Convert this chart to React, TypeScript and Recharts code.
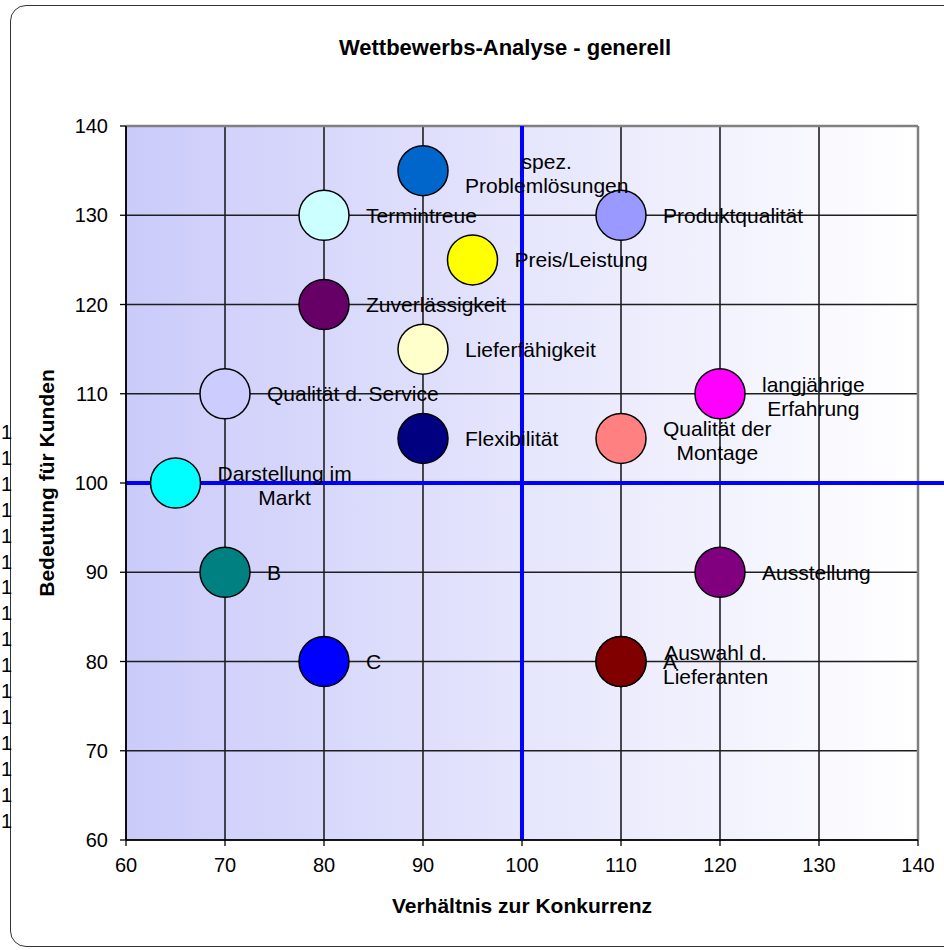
import { ScatterChart, Scatter, XAxis, YAxis, CartesianGrid, ReferenceLine } from 'recharts';

const title = 'Wettbewerbs-Analyse - generell';
const xTitle = 'Verhältnis zur Konkurrenz';
const yTitle = 'Bedeutung für Kunden';

const labels = [
  'spez.\nProblemlösungen',
  'Termintreue',
  'Produktqualität',
  'Preis/Leistung',
  'Zuverlässigkeit',
  'Lieferfähigkeit',
  'Qualität d. Service',
  'langjährige\nErfahrung',
  'Flexibilität',
  'Qualität der\nMontage',
  'Darstellung im\nMarkt',
  'B',
  'Ausstellung',
  'C',
  'A',
  'Auswahl d.\nLieferanten',
];
const xValues = [90, 80, 110, 95, 80, 90, 70, 120, 90, 110, 65, 70, 120, 80, 110, 110];
const yValues = [135, 130, 130, 125, 120, 115, 110, 110, 105, 105, 100, 90, 90, 80, 80, 80];
const bubbleColors = [
  '#0066CC', '#CCFFFF', '#9999FF', '#FFFF00', '#660066', '#FFFFCC', '#CCCCFF', '#FF00FF',
  '#000080', '#FF8080', '#00FFFF', '#008080', '#800080', '#0000FF', '#800000', '#800000',
];
const xTicks = [60, 70, 80, 90, 100, 110, 120, 130, 140];
const yTicks = [60, 70, 80, 90, 100, 110, 120, 130, 140];
// clipped text stubs at the left edge of the frame
const strayMarks = ['1', '1', '1', '1', '1', '1', '1', '1', '1', '1', '1', '1', '1', '1', '1', '1'];

const points = labels.map((label, i) => ({ label, x: xValues[i], y: yValues[i], color: bubbleColors[i] }));

const FONT = '"Liberation Sans", Arial, sans-serif';

let ctx: CanvasRenderingContext2D | null = null;
function textWidth(s: string) {
  if (!ctx) ctx = document.createElement('canvas').getContext('2d');
  if (!ctx) return s.length * 10;
  ctx.font = '21px "Liberation Sans"';
  return ctx.measureText(s).width;
}

function Bubble(props: any) {
  const { cx, cy, payload } = props;
  return <circle cx={cx} cy={cy} r={25} fill={payload.color} stroke="#000" strokeWidth={1.5} />;
}

function BubbleLabel(props: any) {
  const { cx, cy, payload } = props;
  const lines: string[] = payload.label.split('\n');
  const left = cx + 42;
  if (lines.length === 1) {
    return (
      <text x={left} y={cy + 7.5} fontSize={21} fontFamily={FONT} fill="#000">
        {lines[0]}
      </text>
    );
  }
  const mid = left + Math.max(...lines.map(textWidth)) / 2;
  return (
    <text textAnchor="middle" fontSize={21} fontFamily={FONT} fill="#000">
      {lines.map((l, i) => (
        <tspan key={i} x={mid} y={cy - 2 + i * 24}>
          {l}
        </tspan>
      ))}
    </text>
  );
}

export default function App() {
  const tick = { fill: '#000', fontSize: 20, fontFamily: FONT };
  return (
    <div style={{ position: 'absolute', left: 0, top: 0, width: 944, height: 950, overflow: 'hidden', background: '#fff' }}>
      <div
        style={{
          position: 'absolute', left: 10, top: 5, width: 960, height: 942,
          border: '1.5px solid #333', borderRadius: 16, boxSizing: 'border-box',
        }}
      />
      <div
        style={{
          position: 'absolute', left: 0, top: 420, width: 12, overflow: 'hidden', textAlign: 'right',
          fontFamily: FONT, fontSize: 20, lineHeight: '25.9px', color: '#000',
        }}
      >
        {strayMarks.map((m, i) => (
          <div key={i}>{m}</div>
        ))}
      </div>
      <ScatterChart width={944} height={950} margin={{ top: 126, right: 26, bottom: 0, left: 0 }}>
        <defs>
          <linearGradient id="plotBg" x1="0" y1="0" x2="1" y2="0">
            <stop offset="0%" stopColor="#CBCBFA" />
            <stop offset="100%" stopColor="#FFFFFF" />
          </linearGradient>
        </defs>
        <CartesianGrid fill="url(#plotBg)" fillOpacity={1} stroke="#1f1f1f" strokeWidth={1.6} />
        <XAxis
          type="number" dataKey="x" domain={[60, 140]} ticks={xTicks} height={110}
          tick={tick} tickSize={6} tickMargin={12}
          axisLine={{ stroke: '#000', strokeWidth: 1.6 }} tickLine={{ stroke: '#000', strokeWidth: 1.3 }}
        />
        <YAxis
          type="number" dataKey="y" domain={[60, 140]} ticks={yTicks} width={126}
          tick={tick} tickSize={6} tickMargin={12}
          axisLine={{ stroke: '#000', strokeWidth: 1.6 }} tickLine={{ stroke: '#000', strokeWidth: 1.3 }}
        />
        <ReferenceLine y={140} stroke="#808080" strokeWidth={2.5} />
        <ReferenceLine x={140} stroke="#808080" strokeWidth={2.5} />
        <ReferenceLine x={100} stroke="#0000FF" strokeWidth={4} />
        <ReferenceLine
          segment={[{ x: 60, y: 100 }, { x: 145, y: 100 }]}
          ifOverflow="visible" stroke="#0000FF" strokeWidth={4}
        />
        <Scatter data={points} shape={Bubble} isAnimationActive={false} />
        <Scatter data={points} shape={BubbleLabel} isAnimationActive={false} />
      </ScatterChart>
      <div
        style={{
          position: 'absolute', left: 0, top: 37, width: 1010, textAlign: 'center',
          fontFamily: FONT, fontWeight: 'bold', fontSize: 22, lineHeight: '22px', color: '#000',
        }}
      >
        {title}
      </div>
      <div
        style={{
          position: 'absolute', left: 0, top: 895, width: 1044, textAlign: 'center',
          fontFamily: FONT, fontWeight: 'bold', fontSize: 21, lineHeight: '22px', color: '#000',
        }}
      >
        {xTitle}
      </div>
      <div
        style={{
          position: 'absolute', left: -153, top: 472, width: 400, height: 22, textAlign: 'center',
          fontFamily: FONT, fontWeight: 'bold', fontSize: 21, lineHeight: '22px', color: '#000',
          transform: 'rotate(-90deg)', transformOrigin: '50% 50%',
        }}
      >
        {yTitle}
      </div>
    </div>
  );
}
